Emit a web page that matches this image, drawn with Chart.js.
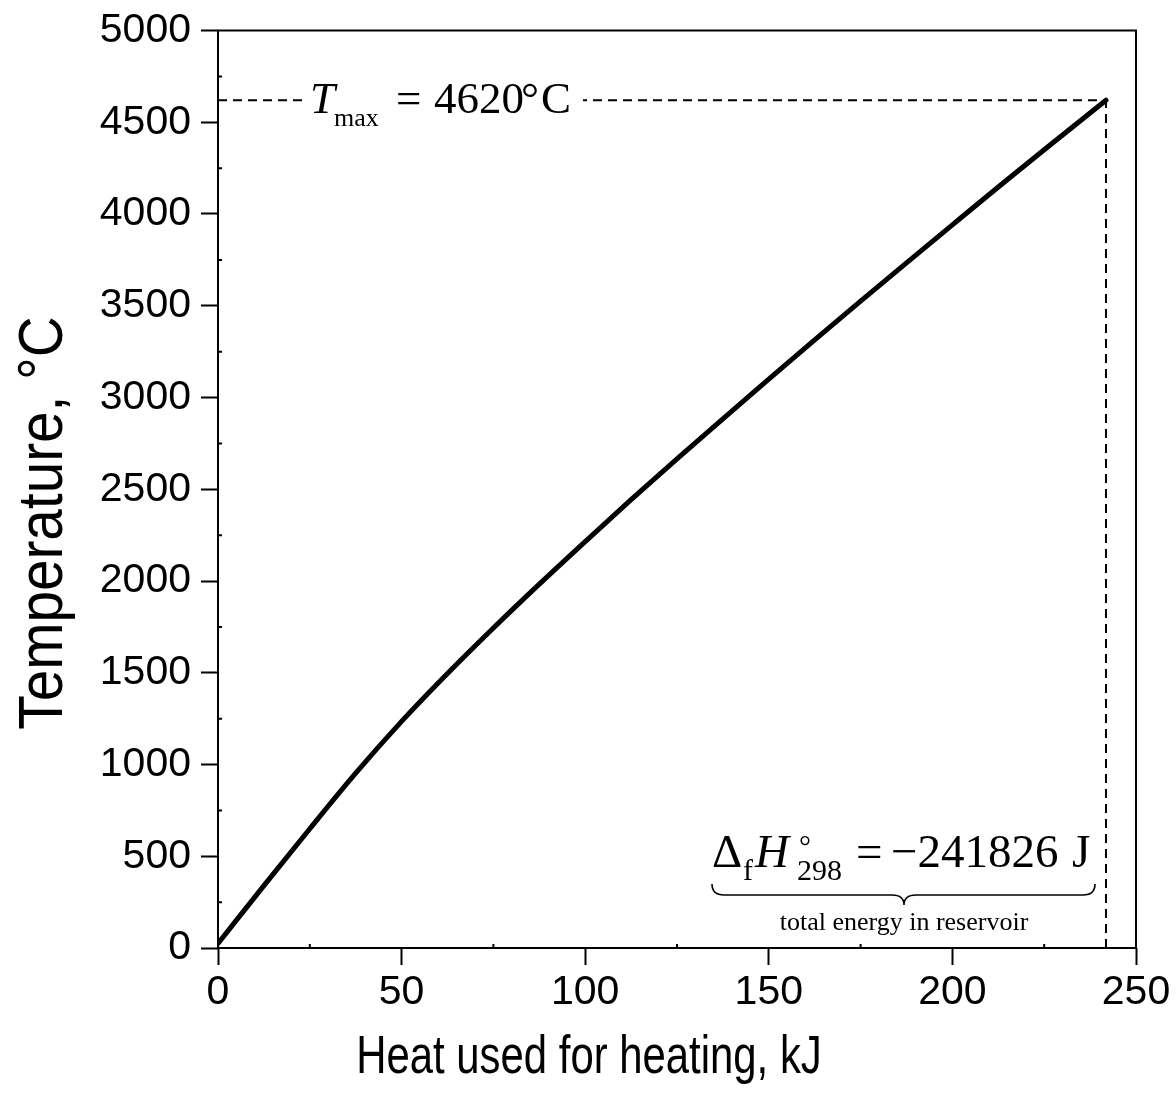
<!DOCTYPE html>
<html>
<head>
<meta charset="utf-8">
<title>Temperature vs heat used for heating</title>
<script src="https://cdn.jsdelivr.net/npm/chart.js@4.4.1/dist/chart.umd.min.js"></script>
<style>
    html, body { margin: 0; padding: 0; background: #ffffff; }
    #wrap { width: 1176px; height: 1105px; position: relative; }
</style>
</head>
<body>
<div id="wrap"><canvas id="heatChart" width="1176" height="1105"></canvas></div>
<script>
// curve: heat (kJ) vs temperature (°C)
const heatKJ = [0, 12.5, 25, 37.5, 50, 62.5, 75, 87.5, 100, 112.5, 125, 137.5, 150,
                162.5, 175, 187.5, 200, 212.5, 225, 241.826];
const tempC = [25, 340, 650, 953, 1235, 1496, 1744, 1983, 2215, 2443, 2665, 2884, 3100,
               3314, 3525, 3734, 3941, 4147, 4350, 4620];

// end point of the heating (dashed guide lines)
const totalHeat = [241.826];
const maxTemp = [4620];

// axis ticks
const xTicks = [0, 50, 100, 150, 200, 250];
const xMinorTicks = [25, 75, 125, 175, 225];
const yTicks = [0, 500, 1000, 1500, 2000, 2500, 3000, 3500, 4000, 4500, 5000];
const yMinorTicks = [250, 750, 1250, 1750, 2250, 2750, 3250, 3750, 4250, 4750];

const xTitle = "Heat used for heating, kJ";
const yTitle = "Temperature, °C";

document.addEventListener("DOMContentLoaded", function () {
    const ctx = document.getElementById("heatChart");
    const sans = "'Liberation Sans', Arial, sans-serif";
    const serif = "'Liberation Serif', 'Times New Roman', serif";

    const curve = heatKJ.map((h, i) => ({ x: h, y: tempC[i] }));
    const hLine = [{ x: 0, y: maxTemp[0] }, { x: totalHeat[0], y: maxTemp[0] }];
    const vLine = [{ x: totalHeat[0], y: 0 }, { x: totalHeat[0], y: maxTemp[0] }];

    // draw a run of text pieces, each with its own font and position
    function drawRuns(c, runs) {
        runs.forEach(r => {
            c.font = r.font;
            c.fillText(r.text, r.x, r.y);
        });
    }

    const framePlugin = {
        id: "frameAndNotes",
        afterDatasetsDraw(chart) {
            const c = chart.ctx;
            const area = chart.chartArea;
            const xs = chart.scales.x;
            const ys = chart.scales.y;
            c.save();

            // frame round the plot
            c.strokeStyle = "#000";
            c.lineWidth = 2;
            c.strokeRect(area.left, area.top, area.right - area.left, area.bottom - area.top);

            // minor ticks, pointing inwards
            c.beginPath();
            xMinorTicks.forEach(v => {
                const px = xs.getPixelForValue(v);
                c.moveTo(px, area.bottom);
                c.lineTo(px, area.bottom - 4);
            });
            yMinorTicks.forEach(v => {
                const py = ys.getPixelForValue(v);
                c.moveTo(area.left, py);
                c.lineTo(area.left + 4, py);
            });
            c.stroke();

            // T_max label sitting on the dashed line
            const yMax = ys.getPixelForValue(maxTemp[0]);
            c.fillStyle = "#fff";
            c.fillRect(303, yMax - 7, 280, 14);
            c.fillStyle = "#000";
            c.textAlign = "left";
            c.textBaseline = "alphabetic";
            const b1 = yMax + 13;
            drawRuns(c, [
                { text: "T", font: "italic 45px " + serif, x: 310, y: b1 },
                { text: "max", font: "26px " + serif, x: 334, y: b1 + 13 },
                { text: "=", font: "45px " + serif, x: 396, y: b1 },
                { text: "4620", font: "45px " + serif, x: 434, y: b1 },
                { text: "°", font: "45px " + serif, x: 521, y: b1 },
                { text: "C", font: "45px " + serif, x: 541, y: b1 }
            ]);

            // enthalpy label with brace
            const b2 = area.bottom - 81;
            drawRuns(c, [
                { text: "Δ", font: "47px " + serif, x: 712, y: b2 },
                { text: "f", font: "30px " + serif, x: 743, y: b2 + 13 },
                { text: "H", font: "italic 47px " + serif, x: 755, y: b2 },
                { text: "°", font: "30px " + serif, x: 799, y: b2 - 11 },
                { text: "298", font: "30px " + serif, x: 797, y: b2 + 13 },
                { text: "=", font: "47px " + serif, x: 856, y: b2 },
                { text: "\u2212241826", font: "47px " + serif, x: 891, y: b2 },
                { text: "J", font: "47px " + serif, x: 1072, y: b2 }
            ]);

            const bl = 712, br = 1095, bt = area.bottom - 64, bm = area.bottom - 53, tip = area.bottom - 43;
            const mid = (bl + br) / 2 + 0.5;
            c.lineWidth = 1.6;
            c.beginPath();
            c.moveTo(bl, bt);
            c.quadraticCurveTo(bl, bm, bl + 12, bm);
            c.lineTo(mid - 12, bm);
            c.quadraticCurveTo(mid, bm, mid, tip);
            c.quadraticCurveTo(mid, bm, mid + 12, bm);
            c.lineTo(br - 12, bm);
            c.quadraticCurveTo(br, bm, br, bt);
            c.stroke();

            c.textAlign = "center";
            c.font = "26px " + serif;
            c.fillText("total energy in reservoir", mid, area.bottom - 18);

            // axis titles (narrow, as in the original)
            c.font = "53px " + sans;
            c.save();
            c.translate(589, 1073);
            c.scale(0.79, 1);
            c.fillText(xTitle, 0, 0);
            c.restore();

            c.font = "63px " + sans;
            c.save();
            c.translate(62, 523);
            c.rotate(-Math.PI / 2);
            c.scale(0.9, 1);
            c.fillText(yTitle, 0, 0);
            c.restore();

            c.restore();
        }
    };

    new Chart(ctx, {
        type: "line",
        data: {
            datasets: [
                {
                    label: "T",
                    data: curve,
                    borderColor: "#000",
                    borderWidth: 5,
                    borderCapStyle: "round",
                    borderJoinStyle: "round",
                    cubicInterpolationMode: "monotone",
                    pointRadius: 0,
                    fill: false
                },
                {
                    label: "Tmax",
                    data: hLine,
                    borderColor: "#000",
                    borderWidth: 2,
                    borderDash: [9, 6],
                    pointRadius: 0,
                    fill: false
                },
                {
                    label: "Qtotal",
                    data: vLine,
                    borderColor: "#000",
                    borderWidth: 2,
                    borderDash: [9, 6],
                    pointRadius: 0,
                    fill: false
                }
            ]
        },
        options: {
            responsive: false,
            animation: false,
            devicePixelRatio: 1,
            layout: {
                padding: { top: 29, right: 40, bottom: 0, left: 0 }
            },
            plugins: {
                legend: { display: false },
                tooltip: { enabled: false },
                title: { display: false }
            },
            scales: {
                x: {
                    type: "linear",
                    min: 0,
                    max: 250,
                    afterBuildTicks: scale => { scale.ticks = xTicks.map(v => ({ value: v })); },
                    afterFit: scale => { scale.height = 157; },
                    border: { display: false },
                    grid: {
                        drawOnChartArea: false,
                        drawTicks: true,
                        tickLength: 17,
                        tickWidth: 2,
                        tickColor: "#000"
                    },
                    ticks: {
                        color: "#000",
                        padding: 3,
                        maxRotation: 0,
                        autoSkip: false,
                        callback: v => String(v),
                        font: { family: sans, size: 41 }
                    }
                },
                y: {
                    type: "linear",
                    min: 0,
                    max: 5000,
                    afterBuildTicks: scale => { scale.ticks = yTicks.map(v => ({ value: v })); },
                    afterFit: scale => { scale.width = 218; },
                    border: { display: false },
                    grid: {
                        drawOnChartArea: false,
                        drawTicks: true,
                        tickLength: 17,
                        tickWidth: 2,
                        tickColor: "#000"
                    },
                    ticks: {
                        color: "#000",
                        padding: 10,
                        autoSkip: false,
                        callback: v => String(v),
                        font: { family: sans, size: 41, lineHeight: 1.0 }
                    }
                }
            }
        },
        plugins: [framePlugin]
    });
});
</script>
</body>
</html>
